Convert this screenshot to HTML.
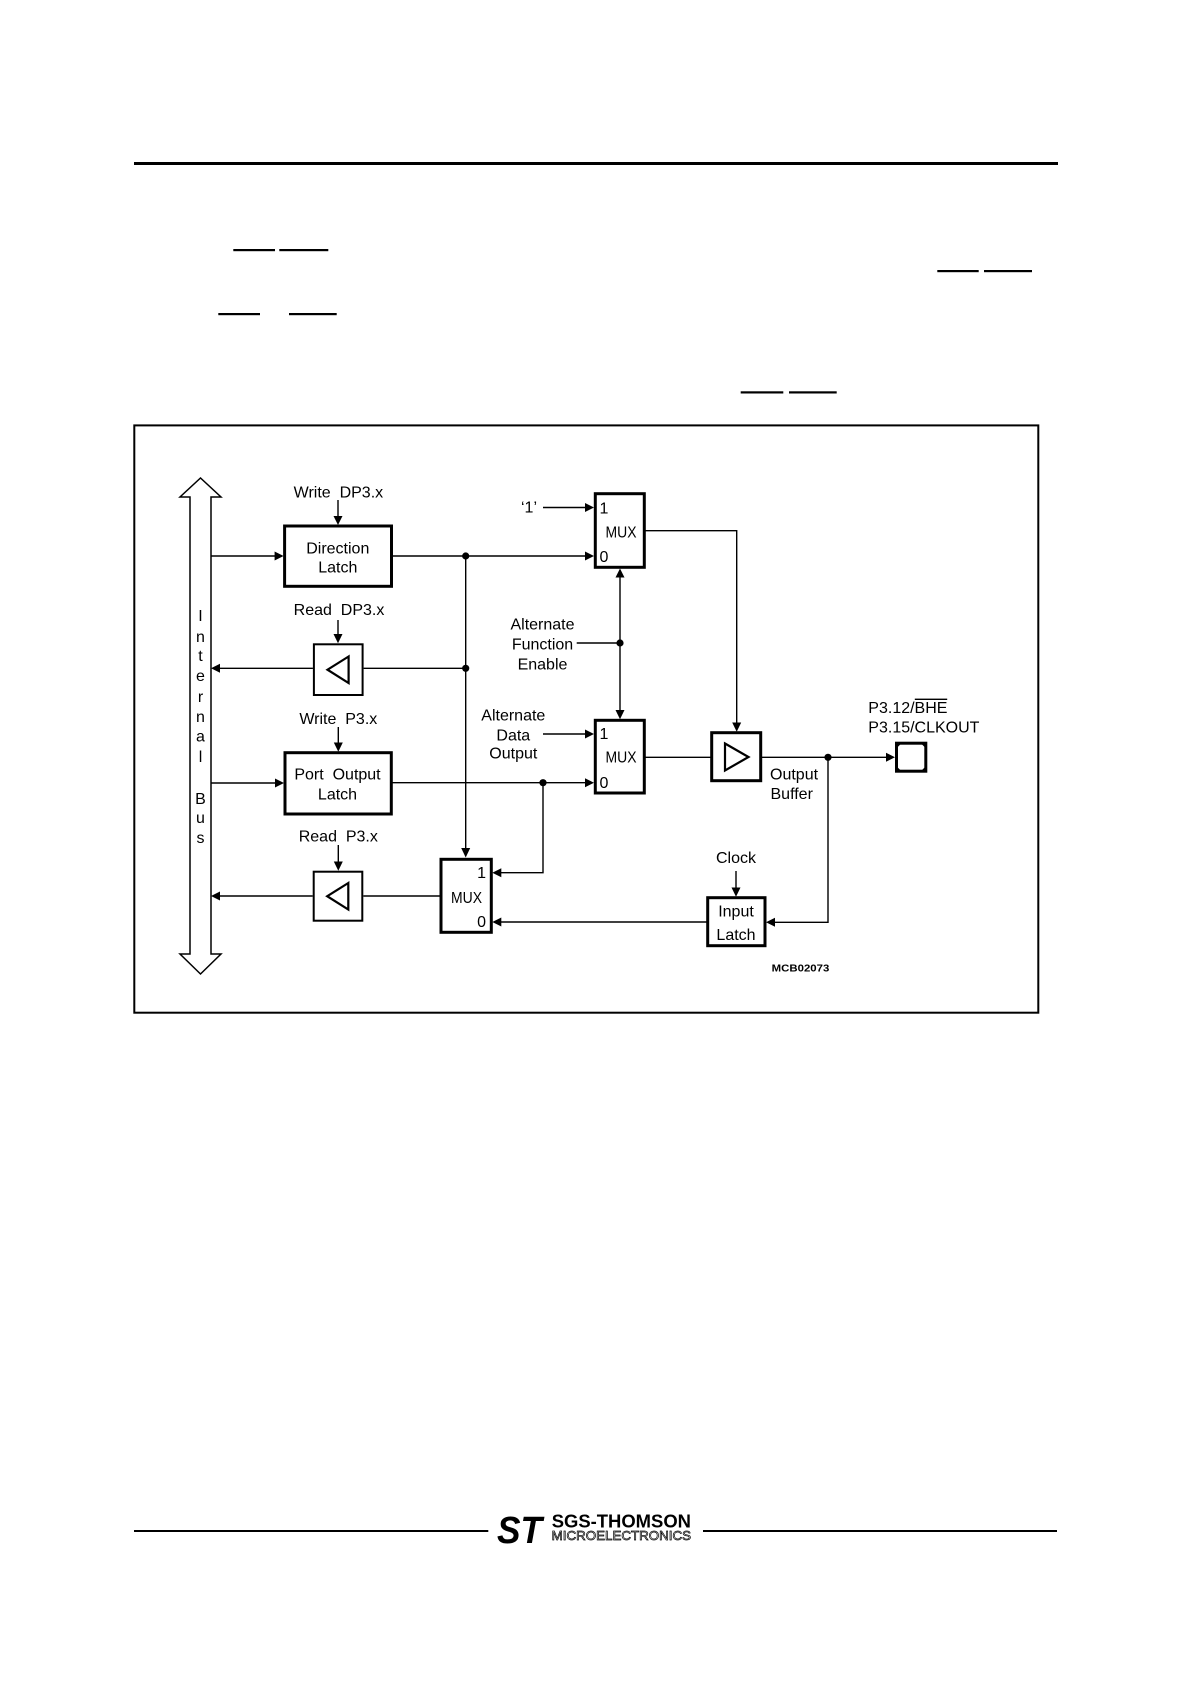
<!DOCTYPE html>
<html><head><meta charset="utf-8"><style>
html,body{margin:0;padding:0;background:#fff;}
svg{display:block;}
text{font-family:"Liberation Sans",sans-serif;font-size:16px;fill:#000;}
</style></head><body>
<svg xmlns="http://www.w3.org/2000/svg" width="1190" height="1684" viewBox="0 0 1190 1684">
<rect width="1190" height="1684" fill="#fff"/>
<!-- header line -->
<rect x="134" y="162" width="924" height="3" fill="#000"/>
<!-- overlines -->
<g fill="#000">
<rect x="233.3" y="249" width="41.7" height="2.2"/>
<rect x="279.3" y="249" width="49" height="2.2"/>
<rect x="937.3" y="270" width="41.4" height="2.2"/>
<rect x="984" y="270" width="48" height="2.2"/>
<rect x="218.3" y="313" width="41.7" height="2.2"/>
<rect x="289" y="313" width="47.7" height="2.2"/>
<rect x="740.7" y="391.3" width="42.6" height="2.2"/>
<rect x="789" y="391.3" width="47.7" height="2.2"/>
</g>
<!-- frame -->
<rect x="134.3" y="425.4" width="904" height="587.3" fill="none" stroke="#000" stroke-width="2"/>

<!-- internal bus -->
<path d="M190,954 L190,497 L180,497 L200.5,478 L221,497 L211,497 L211,954 L221,954 L200.5,974 L180,954 Z" fill="#fff" stroke="#000" stroke-width="1.5"/>
<g text-anchor="middle" style="font-size:15px">
<text x="200.5" y="621">I</text>
<text x="200.5" y="642">n</text>
<text x="200.5" y="661">t</text>
<text x="200.5" y="681">e</text>
<text x="200.5" y="702">r</text>
<text x="200.5" y="722">n</text>
<text x="200.5" y="741.5">a</text>
<text x="200.5" y="762">l</text>
<text x="200.5" y="804">B</text>
<text x="200.5" y="823">u</text>
<text x="200.5" y="843">s</text>
</g>

<!-- connectors -->
<g stroke="#000" stroke-width="1.4" fill="none">
<line x1="211" y1="556" x2="276" y2="556"/>
<line x1="338" y1="500" x2="338" y2="518"/>
<line x1="392.5" y1="556" x2="586" y2="556"/>
<line x1="465.7" y1="556" x2="465.7" y2="849"/>
<line x1="338" y1="620" x2="338" y2="636"/>
<line x1="363.6" y1="668.3" x2="465.7" y2="668.3"/>
<line x1="219" y1="668.3" x2="312.9" y2="668.3"/>
<line x1="543" y1="507.5" x2="586" y2="507.5"/>
<polyline points="645.3,530.7 736.7,530.7 736.7,724"/>
<line x1="576.7" y1="643" x2="620" y2="643"/>
<line x1="620" y1="577" x2="620" y2="711"/>
<line x1="543" y1="734" x2="586" y2="734"/>
<line x1="211" y1="783" x2="276" y2="783"/>
<line x1="338.3" y1="727" x2="338.3" y2="744"/>
<line x1="392.3" y1="782.7" x2="586" y2="782.7"/>
<polyline points="543,782.7 543,872.7 501,872.7"/>
<line x1="645.3" y1="757.3" x2="710.7" y2="757.3"/>
<line x1="761.7" y1="757.3" x2="887" y2="757.3"/>
<polyline points="828,757.3 828,922.3 774,922.3"/>
<line x1="736" y1="871" x2="736" y2="889"/>
<line x1="706.7" y1="922" x2="500" y2="922"/>
<line x1="363.3" y1="896" x2="440" y2="896"/>
<line x1="219" y1="896" x2="312.7" y2="896"/>
<line x1="338.3" y1="845" x2="338.3" y2="863"/>
</g>

<!-- arrowheads -->
<g fill="#000">
<polygon points="274.6,551.5 283.6,556 274.6,560.5"/>
<polygon points="333.5,516 338,525 342.5,516"/>
<polygon points="585,551.5 594,556 585,560.5"/>
<polygon points="461.2,848 465.7,857.5 470.2,848"/>
<polygon points="333.5,634 338,643.3 342.5,634"/>
<polygon points="220,663.8 211,668.3 220,672.8"/>
<polygon points="585,503 594,507.5 585,512"/>
<polygon points="732.2,722.5 736.7,731.7 741.2,722.5"/>
<polygon points="615.5,577.5 620,568.5 624.5,577.5"/>
<polygon points="615.5,710 620,719.3 624.5,710"/>
<polygon points="585,729.5 594,734 585,738.5"/>
<polygon points="275,778.5 284,783 275,787.5"/>
<polygon points="333.8,742.5 338.3,751.7 342.8,742.5"/>
<polygon points="585,778.2 594,782.7 585,787.2"/>
<polygon points="501.3,868.2 492.3,872.7 501.3,877.2"/>
<polygon points="886,752.8 895,757.3 886,761.8"/>
<polygon points="775,917.8 766,922.3 775,926.8"/>
<polygon points="731.5,887.5 736,896.7 740.5,887.5"/>
<polygon points="501.3,917.5 492.3,922 501.3,926.5"/>
<polygon points="220,891.5 211,896 220,900.5"/>
<polygon points="333.8,861.5 338.3,870.7 342.8,861.5"/>
<circle cx="465.7" cy="556" r="3.6"/>
<circle cx="465.7" cy="668.3" r="3.6"/>
<circle cx="620" cy="643" r="3.6"/>
<circle cx="543" cy="782.7" r="3.6"/>
<circle cx="828" cy="757.3" r="3.6"/>
</g>

<!-- boxes -->
<g fill="#fff" stroke="#000">
<rect x="284.6" y="526" width="106.9" height="60.3" stroke-width="3"/>
<rect x="313.9" y="644.3" width="48.7" height="50.7" stroke-width="2"/>
<rect x="595.3" y="493.7" width="49" height="73.6" stroke-width="3"/>
<rect x="595.3" y="720.3" width="49" height="72.7" stroke-width="3"/>
<rect x="285" y="752.7" width="106.3" height="61.3" stroke-width="3"/>
<rect x="313.7" y="871.7" width="48.6" height="49" stroke-width="2"/>
<rect x="441" y="859.3" width="50.3" height="73" stroke-width="3"/>
<rect x="711.7" y="732.7" width="49" height="48" stroke-width="3"/>
<rect x="707.7" y="897.7" width="57.3" height="48" stroke-width="3"/>
<rect x="896.5" y="743.2" width="29.3" height="28" stroke-width="3"/>
</g>
<g fill="#000">
<polygon points="896,742.7 902,742.7 896,748.7"/>
<polygon points="926.3,742.7 920.3,742.7 926.3,748.7"/>
<polygon points="896,771.7 902,771.7 896,765.7"/>
<polygon points="926.3,771.7 920.3,771.7 926.3,765.7"/>
</g>
<g fill="none" stroke="#000" stroke-width="2.2">
<polygon points="348.6,656.5 327.5,669.7 348.6,683"/>
<polygon points="348.3,883 327.2,896.2 348.3,909.5"/>
<polygon points="725,743.5 748.5,757 725,770.5"/>
</g>

<!-- labels -->
<g text-anchor="middle">
<text x="338.4" y="497.5" xml:space="preserve">Write  DP3.x</text>
<text x="337.8" y="553.5">Direction</text>
<text x="337.8" y="572.5">Latch</text>
<text x="339" y="615" xml:space="preserve">Read  DP3.x</text>
<text x="338.3" y="724" xml:space="preserve">Write  P3.x</text>
<text x="337.5" y="779.7" xml:space="preserve">Port  Output</text>
<text x="337.5" y="799.7">Latch</text>
<text x="338.3" y="841.7" xml:space="preserve">Read  P3.x</text>
<text x="529" y="512.7">‘1’</text>
<text x="542.5" y="629.5">Alternate</text>
<text x="542.5" y="649.5">Function</text>
<text x="542.5" y="669.5">Enable</text>
<text x="513.3" y="720.7">Alternate</text>
<text x="513.3" y="740.7">Data</text>
<text x="513.3" y="758.7">Output</text>
<text x="736" y="863">Clock</text>
<text x="736" y="916.7">Input</text>
<text x="736" y="940">Latch</text>
</g>
<g>
<text x="770" y="779.7">Output</text>
<text x="770.5" y="799">Buffer</text>
<text x="868.3" y="713">P3.12/BHE</text>
<rect x="914.8" y="698.6" width="32.4" height="1.4" fill="#000"/>
<text x="868.3" y="732.4">P3.15/CLKOUT</text>
</g>
<!-- MUX labels -->
<g>
<text x="599.5" y="513.5">1</text>
<text x="621" y="537.5" text-anchor="middle" textLength="31" lengthAdjust="spacingAndGlyphs">MUX</text>
<text x="599.5" y="562">0</text>
<text x="599.5" y="739">1</text>
<text x="621" y="762.5" text-anchor="middle" textLength="31" lengthAdjust="spacingAndGlyphs">MUX</text>
<text x="599.5" y="788">0</text>
<text x="486" y="878" text-anchor="end">1</text>
<text x="466.5" y="903" text-anchor="middle" textLength="31" lengthAdjust="spacingAndGlyphs">MUX</text>
<text x="486" y="927" text-anchor="end">0</text>
</g>
<text x="800.5" y="971.5" text-anchor="middle" style="font-size:10.5px;font-weight:bold" textLength="57.6" lengthAdjust="spacingAndGlyphs">MCB02073</text>

<!-- footer -->
<rect x="134" y="1530" width="354.3" height="2" fill="#000"/>
<rect x="703" y="1530" width="354" height="2" fill="#000"/>
<text x="497" y="1543" style="font-size:38px;font-weight:bold;font-style:italic" textLength="45" lengthAdjust="spacingAndGlyphs">ST</text>
<text x="551.7" y="1527.5" style="font-size:18.5px;font-weight:bold" textLength="139.3" lengthAdjust="spacingAndGlyphs">SGS-THOMSON</text>
<text x="551.7" y="1540.2" style="font-size:13px;fill:#fff;stroke:#000;stroke-width:0.7" textLength="139.3" lengthAdjust="spacingAndGlyphs">MICROELECTRONICS</text>
</svg>
</body></html>
